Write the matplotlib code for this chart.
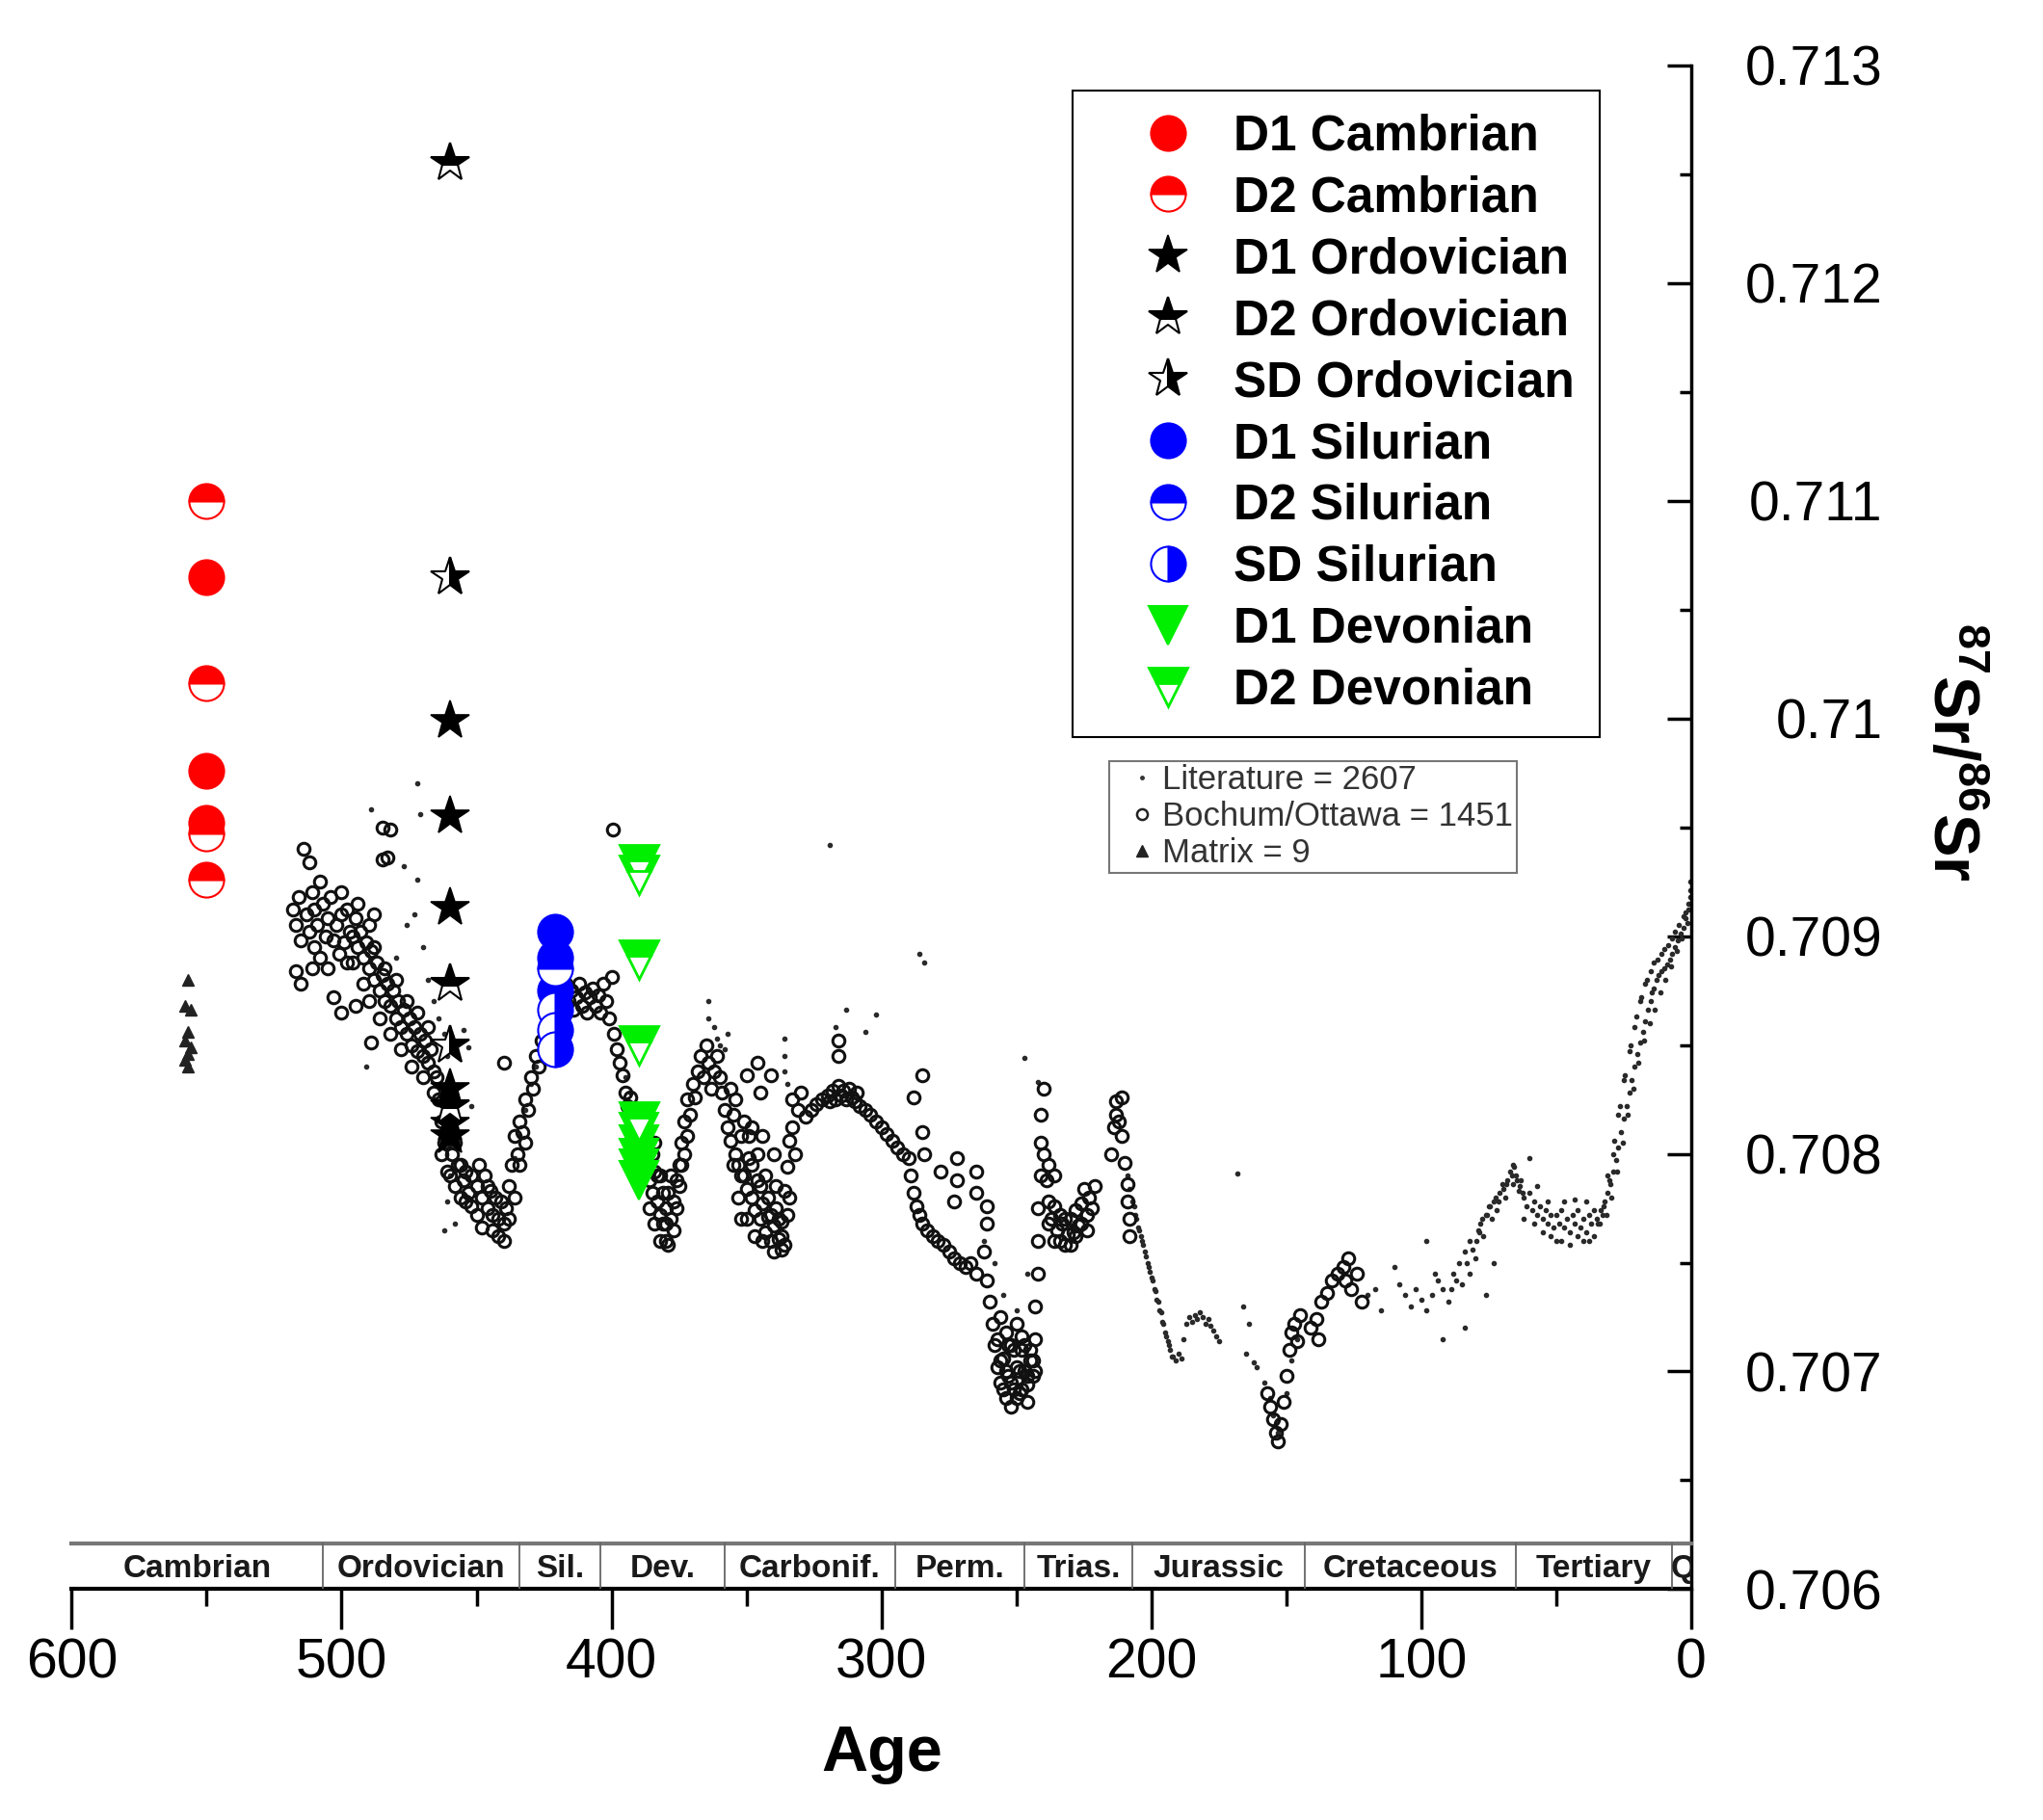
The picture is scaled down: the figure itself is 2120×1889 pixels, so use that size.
import matplotlib
matplotlib.use('Agg')
import matplotlib.pyplot as plt
from matplotlib.lines import Line2D
from matplotlib.ticker import MultipleLocator, FormatStrFormatter

plt.rcParams['font.family'] = ['Liberation Sans', 'DejaVu Sans']
plt.rcParams['mathtext.fontset'] = 'custom'
plt.rcParams['mathtext.rm'] = 'Liberation Sans'
plt.rcParams['mathtext.bf'] = 'Liberation Sans:bold'

# ---- literature compilation (small dots) ----
lit_age = [472, 471, 489, 477, 472, 473, 470, 468, 466, 464, 462, 461, 460, 459, 460, 461, 462, 458, 455, 453,
           452, 491, 476, 480, 436, 434, 432, 430, 428, 395, 393,
           364, 364, 362, 361, 360, 358, 357, 336, 336, 336, 335, 317, 313, 306, 302, 319, 286, 284,
           262, 258, 255, 250, 246, 247, 242, 230, 228,
           209, 207, 206, 205, 204, 203, 202, 201, 200, 199, 198, 197, 196, 195, 194, 193, 192, 191, 190, 189,
           188, 187, 186, 185, 184, 183, 182, 181, 180, 179, 178, 177, 176, 175, 168, 166, 164, 165, 162, 161,
           158, 156, 155, 153, 150, 148, 146,
           120, 117, 115, 108, 106, 104, 102, 100, 98, 96, 94, 92, 90, 88, 86, 85, 84, 82, 80, 79, 78, 77, 76,
           75, 74, 73, 72, 71, 70, 69, 68, 67, 66, 65, 64, 63, 62, 61, 60, 59, 58, 57, 56, 55, 54, 53, 52, 51,
           50, 49, 48, 47, 46, 45, 44, 43, 42, 41, 40, 39, 38, 37, 36, 35, 34, 33,
           110, 98, 92, 84, 95, 76, 82, 60, 50, 40, 73, 66, 62,
           32, 31, 30, 29, 28, 27, 26, 25, 24, 23, 22, 21, 20, 19, 18, 17, 16, 15, 14.5, 14, 13, 12, 11, 10,
           9, 8, 7, 6, 5, 4, 3, 2, 1, 0.3,
           31.5, 29.5, 27.5, 25.5, 23.5, 21.5, 19.5, 17.5, 15.5, 13.5, 11.5, 9.5, 7.5, 5.5, 3.5, 1.5]
lit_sr = [0.70970, 0.70956, 0.70958, 0.70932, 0.70926, 0.70910, 0.70895, 0.70880, 0.70870, 0.70862, 0.70855,
          0.70845, 0.70830, 0.70815, 0.70790, 0.70778, 0.70765, 0.70768, 0.70857, 0.70849,
          0.70822, 0.70840, 0.70905, 0.70890, 0.70798, 0.70808, 0.70820, 0.70832, 0.70840, 0.70835, 0.70828,
          0.70870, 0.70862, 0.70858, 0.70853, 0.70850, 0.70848, 0.70855, 0.70853, 0.70845, 0.70838, 0.70832,
          0.70858, 0.70866, 0.70856, 0.70864, 0.70942, 0.70892, 0.70888,
          0.70760, 0.70750, 0.70735, 0.70728, 0.70745, 0.70844, 0.70833, 0.70760, 0.70765,
          0.70790, 0.70778, 0.70772, 0.70766, 0.70762, 0.70758, 0.70753, 0.70748, 0.70743, 0.70738, 0.70733,
          0.70728, 0.70723, 0.70718, 0.70714, 0.70710, 0.70707, 0.70705, 0.70708, 0.70706,
          0.70715, 0.70722, 0.70725, 0.70723, 0.70726, 0.70724, 0.70727, 0.70725, 0.70722, 0.70724, 0.70721,
          0.70719, 0.70716, 0.70714, 0.70791, 0.70730, 0.70722, 0.70708, 0.70704, 0.70702,
          0.70695, 0.70688, 0.70680, 0.70672, 0.70690, 0.70705, 0.70715,
          0.70735, 0.70738, 0.70728, 0.70740, 0.70735, 0.70730, 0.70738, 0.70733, 0.70728, 0.70735, 0.70742,
          0.70738, 0.70732, 0.70745, 0.70750, 0.70740, 0.70755, 0.70760, 0.70752, 0.70765, 0.70768, 0.70762,
          0.70772, 0.70776, 0.70770, 0.70778, 0.70774, 0.70782, 0.70786, 0.70780, 0.70788, 0.70792, 0.70786,
          0.70790, 0.70783, 0.70788, 0.70780, 0.70776, 0.70782, 0.70774, 0.70778, 0.70772, 0.70776, 0.70770,
          0.70774, 0.70768, 0.70772, 0.70766, 0.70772, 0.70768, 0.70774, 0.70766, 0.70770, 0.70764, 0.70772,
          0.70768, 0.70774, 0.70766, 0.70770, 0.70764, 0.70772, 0.70768, 0.70774, 0.70770, 0.70768, 0.70772,
          0.70748, 0.70760, 0.70715, 0.70720, 0.70745, 0.70735, 0.70745, 0.70798, 0.70760, 0.70760, 0.70750,
          0.70795, 0.70770,
          0.70778, 0.70782, 0.70786, 0.70792, 0.70797, 0.70803, 0.70810, 0.70816, 0.70822, 0.70828, 0.70834,
          0.70840, 0.70846, 0.70851, 0.70856, 0.70861, 0.70866, 0.70870, 0.70874, 0.70876, 0.70880, 0.70882,
          0.70884, 0.70885, 0.70887, 0.70889, 0.70892, 0.70895, 0.70898, 0.70901, 0.70904, 0.70908, 0.70912,
          0.70918,
          0.70772, 0.70780, 0.70792, 0.70805, 0.70818, 0.70830, 0.70842, 0.70852, 0.70860, 0.70866, 0.70874,
          0.70880, 0.70886, 0.70893, 0.70899, 0.70906]

# extra literature points, (age, Sr) pairs, where the compilation is densest
lit_extra = [(34.5, 0.70768), (33.5, 0.70774), (32.5, 0.70776), (31, 0.70790), (30.5, 0.70788),
             (29, 0.70800), (28.5, 0.70806), (27, 0.70818), (26.5, 0.70822), (25, 0.70834),
             (24.5, 0.70836), (23, 0.70847), (22.5, 0.70850), (21, 0.70858), (20.5, 0.70863),
             (19, 0.70870), (18.5, 0.70872), (17, 0.70878), (16.5, 0.70880), (15, 0.70884),
             (14, 0.70888), (12.5, 0.70889), (11, 0.70892), (10, 0.70894), (8.5, 0.70896),
             (7, 0.70899), (6, 0.70902), (4.5, 0.70905), (3, 0.70909), (2, 0.70911), (1, 0.70915),
             (0.5, 0.70921), (0.2, 0.70925),
             (58, 0.70768), (55, 0.70764), (52, 0.70762), (48, 0.70760), (45, 0.70758), (42, 0.70762),
             (38, 0.70760), (36, 0.70762), (57, 0.70785), (53, 0.70778), (47, 0.70778), (43, 0.70779),
             (39, 0.70778),
             (66.5, 0.70790), (65.5, 0.70794), (64.5, 0.70788), (63.5, 0.70785), (62.5, 0.70782),
             (89, 0.70738), (87, 0.70742), (83, 0.70750), (81, 0.70756), (79.5, 0.70760), (78.5, 0.70764),
             (77.5, 0.70770), (75.5, 0.70772), (74.5, 0.70776), (72.5, 0.70780), (71.5, 0.70778),
             (69.5, 0.70784), (68.5, 0.70786),
             (208, 0.70784), (206.5, 0.70776), (205.5, 0.70770), (204.5, 0.70765), (203.5, 0.70760),
             (202.5, 0.70755), (201.5, 0.70750), (200.5, 0.70746), (199.5, 0.70742), (198.5, 0.70737),
             (197.5, 0.70732), (196.5, 0.70727), (195.5, 0.70722), (194.5, 0.70716), (193.5, 0.70712),
             (192.5, 0.70707)]

# ---- Bochum/Ottawa data (open circles) ----
bo_age = [518, 517, 516, 515, 514, 513, 512, 512, 511, 510, 510, 509, 508, 508, 507, 506, 505, 505, 504, 503,
          502, 501, 500, 499, 498, 497, 517, 515, 511, 503, 500, 495, 489,
          496, 495, 494, 493, 492, 491, 490, 489, 488, 487, 486, 485, 484, 483, 482, 481, 480, 479, 478, 477,
          476, 475, 474, 473, 472, 471, 470, 469, 468, 467, 466, 485, 485, 482, 483, 490, 488,
          465, 464, 463, 463, 462, 461, 460, 459, 458, 457, 456, 455, 454, 453, 452, 450, 449, 448, 447, 446,
          445, 444, 443, 442, 441, 440, 439, 440,
          438, 437, 436, 435, 434, 433, 432, 431, 430, 429, 428, 427, 426, 425, 424, 423, 422, 421,
          420, 419, 418, 417, 416, 415, 414, 413, 412, 411, 410, 409, 408, 407, 406, 405, 404, 403, 402, 401,
          399.6, 400,
          399, 398, 397, 396, 395, 394, 393, 392, 391, 390, 389, 388, 387, 386, 385, 384, 383, 382, 381, 380,
          379, 378, 377, 376, 375, 384, 382, 380,
          374, 373, 372, 371, 370, 369, 368, 367, 366, 365, 364, 363, 362, 361, 360, 359,
          358, 357, 356, 355, 354, 353, 352, 351, 350, 349, 348, 347, 346, 345, 344, 343, 342, 341, 340, 339,
          338, 337, 337, 336, 335, 334, 333, 332, 331, 330, 350, 346, 345, 341, 333,
          328, 326, 324, 322, 320, 319, 318, 317, 316, 315, 314, 313, 312, 311, 310, 309, 308, 306, 304, 302,
          300, 298, 296, 294, 292, 316, 316, 285, 288,
          290, 289, 288, 287, 286, 285, 283, 281, 279, 277, 275, 273, 271, 269, 267, 265,
          285, 284, 278, 272, 272, 273, 265, 265, 261, 261,
          262, 261, 260, 259, 258, 257, 256, 255, 254, 253, 252, 251, 250, 249, 248, 247, 246, 245, 244,
          256, 254, 252, 250, 248, 246,
          243, 243, 243, 242, 242, 242, 241, 241, 241, 240,
          240, 239, 238, 237, 236, 235, 234, 233, 232, 231, 230, 229, 228, 227, 226, 225, 224, 223, 222, 221,
          238, 236,
          215, 214, 213, 212, 211, 210, 209, 209, 208, 213, 211, 208,
          157, 156, 155, 154, 153, 152, 151, 150, 149, 148, 147, 146, 145, 141, 139, 137, 135, 133, 131, 129,
          127, 128, 126, 124, 122, 138]
bo_sr = [0.70912, 0.70905, 0.70918, 0.70898, 0.70940, 0.70910, 0.70934, 0.70902, 0.70920, 0.70895, 0.70912,
         0.70905, 0.70925, 0.70890, 0.70915, 0.70900, 0.70908, 0.70885, 0.70918, 0.70898, 0.70905, 0.70892,
         0.70910, 0.70897, 0.70888, 0.70902, 0.70884, 0.70878, 0.70885, 0.70872, 0.70865, 0.70868, 0.70851,
         0.70900, 0.70908, 0.70895, 0.70902, 0.70890, 0.70897, 0.70885, 0.70893, 0.70880, 0.70888, 0.70875,
         0.70882, 0.70870, 0.70878, 0.70868, 0.70875, 0.70862, 0.70870, 0.70858, 0.70866, 0.70855, 0.70862,
         0.70850, 0.70858, 0.70847, 0.70855, 0.70845, 0.70852, 0.70842, 0.70848, 0.70838, 0.70950, 0.70935,
         0.70949, 0.70936, 0.70905, 0.70910,
         0.70835, 0.70825, 0.70815, 0.70800, 0.70805, 0.70792, 0.70790, 0.70800, 0.70785, 0.70795, 0.70780,
         0.70788, 0.70792, 0.70782, 0.70776, 0.70785, 0.70795, 0.70780, 0.70790, 0.70775, 0.70783, 0.70772,
         0.70780, 0.70770, 0.70778, 0.70768, 0.70775, 0.70842,
         0.70785, 0.70795, 0.70808, 0.70800, 0.70815, 0.70810, 0.70825, 0.70820, 0.70835, 0.70830, 0.70845,
         0.70840, 0.70852, 0.70848, 0.70858, 0.70855, 0.70862, 0.70860,
         0.70868, 0.70873, 0.70866, 0.70878, 0.70870, 0.70875, 0.70866, 0.70872, 0.70878, 0.70868, 0.70874,
         0.70865, 0.70872, 0.70876, 0.70868, 0.70873, 0.70865, 0.70878, 0.70870, 0.70862, 0.70949, 0.70881,
         0.70855, 0.70848, 0.70842, 0.70836, 0.70828, 0.70822, 0.70826, 0.70815, 0.70820, 0.70808, 0.70814,
         0.70800, 0.70795, 0.70788, 0.70782, 0.70792, 0.70778, 0.70772, 0.70768, 0.70775, 0.70782, 0.70770,
         0.70778, 0.70788, 0.70795, 0.70805, 0.70790, 0.70760,
         0.70805, 0.70815, 0.70825, 0.70818, 0.70832, 0.70826, 0.70838, 0.70845, 0.70835, 0.70850, 0.70842,
         0.70830, 0.70838, 0.70845, 0.70835, 0.70828,
         0.70820, 0.70812, 0.70806, 0.70818, 0.70800, 0.70795, 0.70808, 0.70790, 0.70784, 0.70798, 0.70780,
         0.70774, 0.70788, 0.70770, 0.70777, 0.70764, 0.70771, 0.70760, 0.70767, 0.70775, 0.70761, 0.70756,
         0.70769, 0.70783, 0.70794, 0.70806, 0.70812, 0.70800, 0.70820, 0.70828, 0.70836, 0.70842, 0.70828,
         0.70836, 0.70825,
         0.70817, 0.70820, 0.70823, 0.70825, 0.70827, 0.70824, 0.70829, 0.70825, 0.70831, 0.70827, 0.70829,
         0.70825, 0.70830, 0.70826, 0.70824, 0.70828, 0.70822, 0.70820, 0.70818, 0.70815, 0.70812, 0.70809,
         0.70806, 0.70803, 0.70800, 0.70852, 0.70845, 0.70836, 0.70826,
         0.70798, 0.70790, 0.70782, 0.70776, 0.70772, 0.70768, 0.70765, 0.70762, 0.70760, 0.70758, 0.70755,
         0.70752, 0.70750, 0.70748, 0.70750, 0.70745,
         0.70810, 0.70800, 0.70792, 0.70798, 0.70788, 0.70778, 0.70792, 0.70782, 0.70776, 0.70768,
         0.70755, 0.70742, 0.70732, 0.70722, 0.70712, 0.70702, 0.70695, 0.70706, 0.70688, 0.70698, 0.70684,
         0.70692, 0.70702, 0.70690, 0.70710, 0.70700, 0.70694, 0.70705, 0.70698,
         0.70725, 0.70718, 0.70712, 0.70722, 0.70716, 0.70686,
         0.70700, 0.70715, 0.70730, 0.70745, 0.70760, 0.70775, 0.70790, 0.70805, 0.70818, 0.70830,
         0.70800, 0.70788, 0.70778, 0.70770, 0.70776, 0.70765, 0.70760, 0.70768, 0.70758, 0.70763, 0.70770,
         0.70764, 0.70774, 0.70767, 0.70777, 0.70784, 0.70772, 0.70780, 0.70775, 0.70785, 0.70795, 0.70790,
         0.70800, 0.70812, 0.70818, 0.70815, 0.70808, 0.70796, 0.70786, 0.70778, 0.70770, 0.70824, 0.70826,
         0.70762,
         0.70690, 0.70684, 0.70678, 0.70672, 0.70668, 0.70676, 0.70686, 0.70698, 0.70710, 0.70718, 0.70722,
         0.70714, 0.70726, 0.70720, 0.70724, 0.70732, 0.70736, 0.70742, 0.70745, 0.70748, 0.70752, 0.70742,
         0.70738, 0.70745, 0.70732, 0.70715]

# extra Bochum/Ottawa points, (age, Sr) pairs, in the dense clusters
bo_extra = [(356, 0.70830), (355, 0.70795), (354, 0.70825), (353, 0.70780), (352, 0.70790), (351, 0.70815),
            (350, 0.70770), (349, 0.70808), (348, 0.70795), (347, 0.70762), (346, 0.70800), (345, 0.70785),
            (344, 0.70760), (343, 0.70790), (342, 0.70780), (341, 0.70772), (340, 0.70755), (339, 0.70785),
            (338, 0.70770), (337, 0.70762), (336, 0.70758), (335, 0.70772), (334, 0.70780), (352, 0.70770),
            (348, 0.70812), (344, 0.70808), (340, 0.70800),
            (386, 0.70775), (385, 0.70800), (384, 0.70768), (383, 0.70790), (382, 0.70760), (381, 0.70782),
            (380, 0.70768), (379, 0.70758), (378, 0.70790), (377, 0.70765), (376, 0.70775), (375, 0.70785),
            (374, 0.70795), (373, 0.70800), (372, 0.70808),
            (458, 0.70805), (456, 0.70795), (454, 0.70778), (452, 0.70790), (450, 0.70772), (448, 0.70766),
            (446, 0.70785), (444, 0.70765), (442, 0.70762), (440, 0.70760), (438, 0.70770), (436, 0.70780),
            (434, 0.70795), (432, 0.70805),
            (500, 0.70920), (498, 0.70912), (496, 0.70888), (494, 0.70915), (492, 0.70878), (490, 0.70870),
            (488, 0.70895), (486, 0.70862), (484, 0.70885), (482, 0.70855), (480, 0.70880), (478, 0.70848),
            (476, 0.70870), (474, 0.70840), (472, 0.70865), (470, 0.70835), (468, 0.70858), (466, 0.70828),
            (257, 0.70715), (256, 0.70705), (255, 0.70692), (254, 0.70700), (253, 0.70712), (252, 0.70695),
            (251, 0.70710), (250, 0.70688), (249, 0.70700), (248, 0.70692), (247, 0.70712), (246, 0.70698),
            (245, 0.70710), (244, 0.70705),
            (238, 0.70768), (236, 0.70760), (234, 0.70772), (232, 0.70770), (230, 0.70758), (228, 0.70762),
            (226, 0.70768), (224, 0.70765)]

# ---- matrix samples ----
mx_age = [557, 558, 556, 557, 558, 556, 557, 558, 557]
mx_sr = [0.70880, 0.70868, 0.70866, 0.70856, 0.70852, 0.70849, 0.70846, 0.70843, 0.70840]

# ---- this study ----
cam_age = 550
cam_d1 = [0.71065, 0.70976, 0.70952]
cam_d2 = [0.71100, 0.71016, 0.70947, 0.70926]
ord_age = 460
ord_d1 = [0.70999, 0.70955, 0.70913, 0.70830, 0.70814, 0.70808]
ord_d2 = [0.71255, 0.70878, 0.70822]
ord_sd = [0.71065, 0.70850]
sil_age = 421
sil_d1 = [0.70902, 0.70890, 0.70875]
sil_d2 = [0.70885]
sil_sd = [0.70866, 0.70857, 0.70848]
dev_age = 390
dev_d1 = [0.70810, 0.70804, 0.70798, 0.70793, 0.70788]
dev_d2 = [0.70933, 0.70928, 0.70889, 0.70850, 0.70815]

# ---- geological periods ----
period_edges = [600, 507, 434, 404, 358, 295, 247, 207, 143, 65, 7, 0]
period_names = ['Cambrian', 'Ordovician', 'Sil.', 'Dev.', 'Carbonif.', 'Perm.', 'Trias.',
                'Jurassic', 'Cretaceous', 'Tertiary', 'Q']

lit_x = lit_age + [a for a, s in lit_extra]
lit_y = lit_sr + [s for a, s in lit_extra]
bo_x = bo_age + [a for a, s in bo_extra]
bo_y = bo_sr + [s for a, s in bo_extra]

fig = plt.figure(figsize=(21.2, 18.89), dpi=100)
ax = fig.add_axes([0.0351, 0.1268, 0.7927, 0.8374])

ax.plot(lit_x, lit_y, '.', color='#2a2a2a', markersize=6, linestyle='none', zorder=2)
ax.plot(bo_x, bo_y, 'o', mfc='none', mec='#111111', markersize=9, mew=2.2, linestyle='none', zorder=2)
ax.plot(mx_age, mx_sr, '^', color='#222222', markersize=8, linestyle='none', zorder=2)

def col(age, vals):
    return [age] * len(vals)

red, blue, green = '#ff0000', '#0000ff', '#00ee00'
styles = {
    'D1 Cambrian': dict(marker='o', ms=26, mfc=red, mec=red, mew=1.5),
    'D2 Cambrian': dict(marker='o', ms=26, mfc=red, mec=red, mew=1.5, fillstyle='top', mfcalt='white'),
    'D1 Ordovician': dict(marker='*', ms=30, mfc='black', mec='black', mew=1.2),
    'D2 Ordovician': dict(marker='*', ms=30, mfc='black', mec='black', mew=1.5, fillstyle='top', mfcalt='white'),
    'SD Ordovician': dict(marker='*', ms=30, mfc='black', mec='black', mew=1.5, fillstyle='right', mfcalt='white'),
    'D1 Silurian': dict(marker='o', ms=26, mfc=blue, mec=blue, mew=1.5),
    'D2 Silurian': dict(marker='o', ms=26, mfc=blue, mec=blue, mew=1.5, fillstyle='top', mfcalt='white'),
    'SD Silurian': dict(marker='o', ms=26, mfc=blue, mec=blue, mew=1.5, fillstyle='right', mfcalt='white'),
    'D1 Devonian': dict(marker='v', ms=29, mfc=green, mec=green, mew=1.5),
    'D2 Devonian': dict(marker='v', ms=29, mfc=green, mec=green, mew=2, fillstyle='top', mfcalt='white'),
}
series = [
    ('D1 Cambrian', cam_age, cam_d1), ('D2 Cambrian', cam_age, cam_d2),
    ('D1 Ordovician', ord_age, ord_d1), ('D2 Ordovician', ord_age, ord_d2), ('SD Ordovician', ord_age, ord_sd),
    ('D1 Silurian', sil_age, sil_d1), ('D2 Silurian', sil_age, sil_d2), ('SD Silurian', sil_age, sil_sd),
    ('D1 Devonian', dev_age, dev_d1), ('D2 Devonian', dev_age, dev_d2),
]
handles = []
for name, age, vals in series:
    st = dict(styles[name])
    alt = st.pop('mfcalt', None)
    h, = ax.plot(col(age, vals), vals, linestyle='none', label=name, zorder=4, **st)
    if alt:
        h.set_markerfacecoloralt(alt)
    handles.append(h)

ax.set_xlim(600, 0)
ax.set_ylim(0.706, 0.713)

# period band
band_top = 0.70621
ax.plot([600, 0], [band_top, band_top], color='#777777', lw=3, zorder=3, clip_on=False)
for e in period_edges[1:-1]:
    ax.plot([e, e], [0.706, band_top], color='#666666', lw=1.3, zorder=3)
for i, name in enumerate(period_names):
    mid = (period_edges[i] + period_edges[i + 1]) / 2
    if name == 'Q':
        mid = 3.0
    ax.text(mid, 0.706095, name, ha='center', va='center', fontsize=24, fontweight='bold',
            family=['Liberation Sans Narrow', 'Liberation Sans'], color='#1a1a1a', zorder=3, clip_on=True)

# axes styling
for s in ['top', 'left']:
    ax.spines[s].set_visible(False)
ax.spines['bottom'].set_linewidth(3)
ax.spines['right'].set_linewidth(2.5)
ax.yaxis.tick_right()
ax.xaxis.set_major_locator(MultipleLocator(100))
ax.xaxis.set_minor_locator(MultipleLocator(50))
ax.yaxis.set_major_locator(MultipleLocator(0.001))
ax.yaxis.set_minor_locator(MultipleLocator(0.0005))
ax.yaxis.set_major_formatter(FormatStrFormatter('%g'))
ax.tick_params(axis='x', which='major', direction='out', length=30, width=2.5, labelsize=41, pad=6)
ax.tick_params(axis='x', which='minor', direction='out', length=13, width=2.5)
ax.tick_params(axis='y', which='major', direction='in', length=18, width=2.5, labelsize=41, pad=143)
ax.tick_params(axis='y', which='minor', direction='in', length=9, width=2.5)
for lbl in ax.get_yticklabels():
    lbl.set_horizontalalignment('right')

fig.text(0.4318, 0.036, 'Age', ha='center', va='center', fontsize=48, fontweight='bold')
fig.text(0.9547, 0.587, r'$\mathbf{^{87}}$Sr/$\mathbf{^{86}}$Sr', rotation=270, ha='center', va='center',
         fontsize=48, fontweight='bold')

leg1 = ax.legend(handles=handles, loc='upper left', bbox_to_anchor=(0.525, 0.5977, 0.258, 0.3523),
                 bbox_transform=fig.transFigure, mode='expand', borderaxespad=0,
                 prop={'weight': 'bold', 'size': 37}, frameon=True, fancybox=False, edgecolor='black',
                 framealpha=1, borderpad=0.45, labelspacing=0.29, handlelength=2.94, handletextpad=-0.14,
                 numpoints=1)
leg1.get_frame().set_linewidth(1.5)
ax.add_artist(leg1)

h2 = [Line2D([], [], marker='.', color='#333333', markersize=5, linestyle='none'),
      Line2D([], [], marker='o', mfc='none', mec='#222222', markersize=8, mew=1.8, linestyle='none'),
      Line2D([], [], marker='^', color='#222222', markersize=8, linestyle='none')]
leg2 = ax.legend(h2, ['Literature = 2607', 'Bochum/Ottawa = 1451', 'Matrix = 9'], loc='upper left',
                 bbox_to_anchor=(0.5427, 0.582), bbox_transform=fig.transFigure,
                 borderaxespad=0, prop={'size': 25}, frameon=True, fancybox=False, edgecolor='#777777',
                 framealpha=1, borderpad=0.1, labelspacing=0.15, handlelength=1.8, handletextpad=-0.3,
                 labelcolor='#333333')
leg2.get_frame().set_linewidth(1.5)

fig.savefig('out.png', dpi=100, facecolor='white')
